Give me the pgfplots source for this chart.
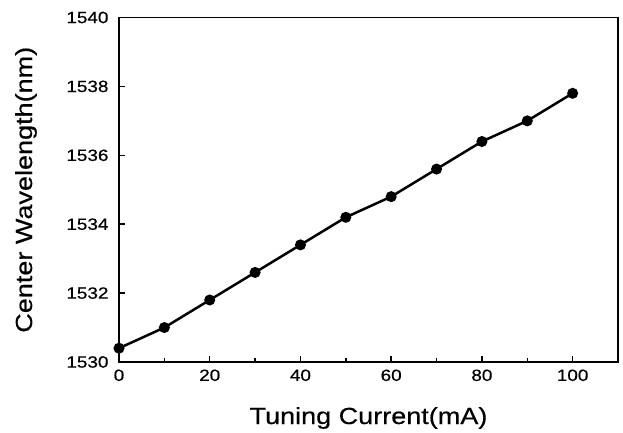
\documentclass[border=0pt]{standalone}
\usepackage{fontspec}
\setmainfont[FakeStretch=1.16, FakeBold=0.4]{Liberation Sans}
\usepackage{pgfplots}
\pgfplotsset{compat=1.18}
\begin{document}
\begin{tikzpicture}
  \begin{axis}[
      scale only axis,
      width=499pt, height=344.5pt,
      xmin=0, xmax=110, ymin=1530, ymax=1540,
      xtick={0,20,...,100},
      ytick={1530,1532,...,1540},
      minor tick num=1,
      tick pos=left,
      tick align=inside,
      major tick length=6pt,
      minor tick length=4pt,
      axis line style={line width=1.8pt},
      every tick/.style={line width=1.4pt, black},
      /pgf/number format/assume math mode=true,
      /pgf/number format/1000 sep={},
      ticklabel style={font=\fontsize{16.3}{18}\selectfont},
      xticklabel style={yshift=-4pt},
      yticklabel style={xshift=-7pt},
      xlabel={Tuning Current(mA)},
      ylabel={Center Wavelength(nm)},
      label style={font=\fontsize{23.3}{26}\selectfont},
      xlabel style={at={(axis description cs:0.5,-0.18)}, anchor=base},
      ylabel style={at={(axis description cs:-0.1743,0.5)}, anchor=base},
    ]
    \addplot[black, line width=2.5pt, mark=*, mark size=4.2pt,
      mark options={solid, fill=black}] coordinates {
      (0,   1530.4)
      (10,  1531.0)
      (20,  1531.8)
      (30,  1532.6)
      (40,  1533.4)
      (50,  1534.2)
      (60,  1534.8)
      (70,  1535.6)
      (80,  1536.4)
      (90,  1537.0)
      (100, 1537.8)
    };
  \end{axis}
  \path[use as bounding box]
    ([xshift=-119pt,yshift=-69pt]current axis.south west)
    rectangle ([xshift=5pt,yshift=17.5pt]current axis.north east);
\end{tikzpicture}
\end{document}
